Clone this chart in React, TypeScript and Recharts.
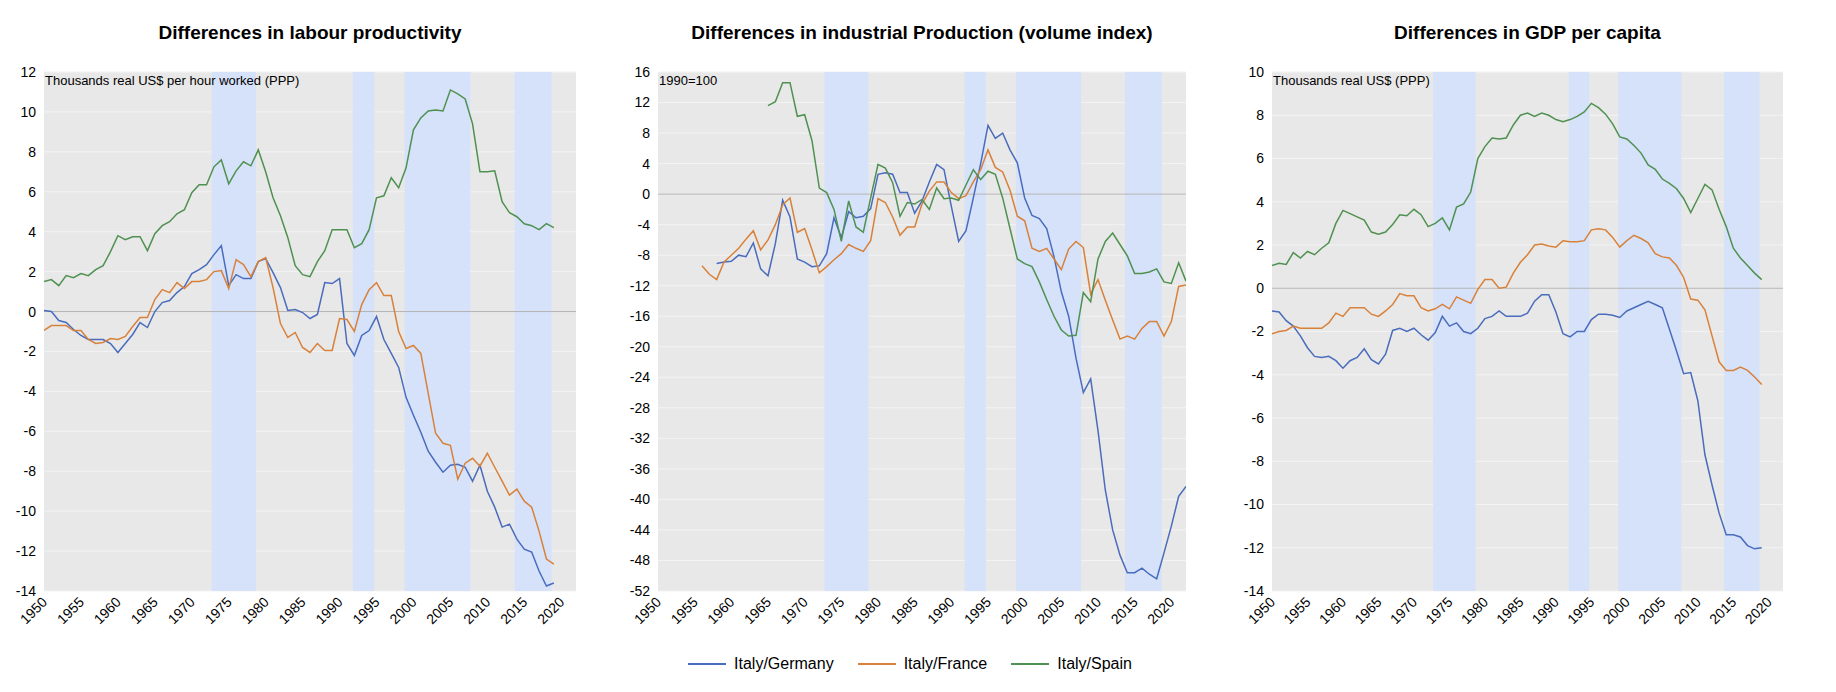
import React from 'react';
import { LineChart, Line, XAxis, YAxis, CartesianGrid, ReferenceArea, ReferenceLine } from 'recharts';

const yearTicks = [1950, 1955, 1960, 1965, 1970, 1975, 1980, 1985, 1990, 1995, 2000, 2005, 2010, 2015, 2020];
const bands = [[1972.7, 1978.7], [1991.8, 1994.7], [1998.8, 2007.7], [2013.7, 2018.7]];

// labour productivity, 1950-2019
const lpGermany = [0.05, 0.0, -0.45, -0.55, -0.9, -1.2, -1.4, -1.4, -1.4, -1.6, -2.05, -1.6, -1.15, -0.55, -0.8, 0.0, 0.45, 0.55, 0.95, 1.25,
  1.9, 2.1, 2.35, 2.85, 3.3, 1.3, 1.85, 1.65, 1.65, 2.5, 2.65, 1.95, 1.2, 0.05, 0.1, -0.05, -0.35, -0.15, 1.45, 1.4,
  1.65, -1.6, -2.2, -1.2, -0.95, -0.25, -1.4, -2.1, -2.8, -4.3, -5.2, -6.05, -7.0, -7.55, -8.05, -7.7, -7.65, -7.8, -8.5, -7.7,
  -9.0, -9.8, -10.8, -10.65, -11.4, -11.9, -12.05, -13.0, -13.75, -13.6];
const lpFrance = [-0.95, -0.7, -0.7, -0.7, -0.95, -0.95, -1.4, -1.6, -1.55, -1.35, -1.4, -1.25, -0.75, -0.3, -0.3, 0.6, 1.1, 0.95, 1.45, 1.15,
  1.5, 1.5, 1.6, 2.0, 2.05, 1.15, 2.6, 2.35, 1.75, 2.5, 2.7, 1.2, -0.6, -1.3, -1.05, -1.8, -2.05, -1.6, -1.95, -1.95,
  -0.35, -0.4, -1.0, 0.35, 1.1, 1.45, 0.8, 0.8, -1.0, -1.85, -1.7, -2.1, -4.1, -6.1, -6.6, -6.7, -8.4, -7.6, -7.35, -7.75,
  -7.1, -7.8, -8.5, -9.2, -8.9, -9.5, -9.8, -11.0, -12.4, -12.65];
const lpSpain = [1.5, 1.6, 1.3, 1.8, 1.7, 1.9, 1.8, 2.1, 2.3, 3.0, 3.8, 3.6, 3.75, 3.75, 3.05, 3.9, 4.3, 4.5, 4.9, 5.1,
  5.95, 6.35, 6.35, 7.25, 7.6, 6.4, 7.05, 7.5, 7.3, 8.1, 7.0, 5.7, 4.8, 3.7, 2.3, 1.85, 1.75, 2.5, 3.05, 4.1,
  4.1, 4.1, 3.2, 3.4, 4.1, 5.7, 5.8, 6.7, 6.2, 7.2, 9.1, 9.7, 10.05, 10.1, 10.05, 11.1, 10.9, 10.65, 9.4, 7.0,
  7.0, 7.05, 5.5, 4.95, 4.75, 4.4, 4.3, 4.1, 4.4, 4.2];

// industrial production, Germany 1958-2022, France 1956-2022, Spain 1965-2022
const ipGermany = [-9.1, -8.9, -8.8, -8.0, -8.2, -6.4, -9.8, -10.7, -6.5, -0.8, -3.0, -8.5, -8.9, -9.5, -9.4, -7.8, -3.1, -5.7, -2.3, -3.1,
  -2.9, -1.9, 2.6, 2.8, 2.6, 0.2, 0.2, -2.5, -0.9, 1.6, 3.9, 3.2, -1.6, -6.2, -4.8, -0.5, 4.0, 9.0, 7.3, 8.0,
  5.8, 4.1, -0.5, -2.8, -3.2, -4.5, -8.2, -12.8, -16.0, -21.5, -26.0, -24.2, -31.0, -38.8, -44.0, -47.3, -49.6, -49.6, -49.0, -49.8,
  -50.4, -47.0, -43.5, -39.6, -38.3];
const ipFrance = [-9.4, -10.5, -11.2, -8.9, -8.0, -7.1, -5.9, -4.8, -7.3, -6.0, -4.0, -1.4, -0.5, -5.0, -4.5, -7.3, -10.3, -9.5, -8.6, -7.8,
  -6.6, -7.1, -7.5, -6.1, -0.6, -1.1, -3.0, -5.4, -4.3, -4.3, -1.3, 0.4, 1.6, 1.6, 0.2, -0.6, -0.2, 1.6, 3.2, 5.8,
  3.5, 2.9, 0.5, -2.9, -3.5, -7.1, -7.5, -7.1, -8.5, -9.9, -7.2, -6.2, -7.0, -13.1, -11.2, -13.9, -16.5, -19.0, -18.6, -19.0,
  -17.6, -16.7, -16.7, -18.6, -16.7, -12.1, -11.9];
const ipSpain = [11.6, 12.1, 14.6, 14.6, 10.2, 10.4, 7.0, 0.8, 0.2, -2.0, -6.2, -0.9, -4.3, -5.0, -0.5, 3.9, 3.4, 1.5, -2.9, -1.1,
  -1.3, -0.7, -2.0, 0.8, -0.6, -0.5, -0.8, 1.2, 3.2, 1.9, 3.0, 2.6, -0.5, -4.5, -8.5, -9.1, -9.5, -11.5, -13.8, -16.0,
  -17.8, -18.6, -18.5, -12.9, -14.1, -8.5, -6.2, -5.1, -6.6, -8.1, -10.4, -10.4, -10.2, -9.8, -11.5, -11.7, -9.0, -11.4];

// GDP per capita, 1950-2019
const gdpGermany = [-1.05, -1.1, -1.5, -1.75, -2.2, -2.75, -3.15, -3.2, -3.15, -3.35, -3.7, -3.35, -3.2, -2.8, -3.3, -3.5, -3.05, -1.95, -1.85, -2.0,
  -1.85, -2.15, -2.4, -2.05, -1.3, -1.75, -1.6, -2.0, -2.1, -1.85, -1.4, -1.3, -1.05, -1.3, -1.3, -1.3, -1.15, -0.6, -0.3, -0.3,
  -1.1, -2.1, -2.25, -2.0, -2.0, -1.45, -1.2, -1.2, -1.25, -1.35, -1.05, -0.9, -0.75, -0.6, -0.75, -0.9, -1.9, -2.9, -3.95, -3.9,
  -5.2, -7.7, -9.1, -10.4, -11.4, -11.4, -11.5, -11.9, -12.05, -12.0];
const gdpFrance = [-2.1, -2.0, -1.95, -1.75, -1.85, -1.85, -1.85, -1.85, -1.6, -1.15, -1.3, -0.9, -0.9, -0.9, -1.2, -1.3, -1.05, -0.75, -0.25, -0.35,
  -0.35, -0.9, -1.05, -0.95, -0.75, -0.95, -0.4, -0.55, -0.7, -0.05, 0.4, 0.4, 0.0, 0.05, 0.7, 1.2, 1.55, 2.0, 2.05, 1.95,
  1.9, 2.2, 2.15, 2.15, 2.2, 2.7, 2.75, 2.7, 2.35, 1.9, 2.2, 2.45, 2.3, 2.1, 1.6, 1.45, 1.4, 1.05, 0.5, -0.5,
  -0.55, -1.0, -2.2, -3.4, -3.8, -3.8, -3.65, -3.8, -4.1, -4.45];
const gdpSpain = [1.05, 1.15, 1.1, 1.65, 1.4, 1.7, 1.55, 1.85, 2.1, 3.0, 3.6, 3.45, 3.3, 3.15, 2.6, 2.5, 2.6, 2.95, 3.4, 3.35,
  3.65, 3.4, 2.85, 3.0, 3.25, 2.7, 3.75, 3.9, 4.45, 6.0, 6.55, 6.95, 6.9, 6.95, 7.55, 8.0, 8.1, 7.95, 8.1, 8.0,
  7.8, 7.7, 7.8, 7.95, 8.15, 8.55, 8.35, 8.05, 7.6, 7.0, 6.9, 6.6, 6.25, 5.7, 5.5, 5.05, 4.85, 4.6, 4.15, 3.5,
  4.15, 4.8, 4.55, 3.65, 2.85, 1.85, 1.4, 1.05, 0.7, 0.4];

const BLUE = '#4a6cbd';
const ORANGE = '#d8813a';
const GREEN = '#4f9150';
const FONT = '"Liberation Sans", Arial, sans-serif';

const build = (g: number[], gs: number, f: number[], fs: number, s: number[], ss: number) => {
  const rows = [];
  for (let y = 1950; y <= 2022; y++) {
    rows.push({
      year: y,
      germany: g[y - gs] ?? null,
      france: f[y - fs] ?? null,
      spain: s[y - ss] ?? null,
    });
  }
  return rows;
};

const lpData = build(lpGermany, 1950, lpFrance, 1950, lpSpain, 1950);
const ipData = build(ipGermany, 1958, ipFrance, 1956, ipSpain, 1965);
const gdpData = build(gdpGermany, 1950, gdpFrance, 1950, gdpSpain, 1950);

const range = (a: number, b: number, s: number) => {
  const out: number[] = [];
  for (let v = a; v <= b; v += s) out.push(v);
  return out;
};

const XTick = ({ x, y, payload }: any) => (
  <text x={x + 4} y={y + 4} textAnchor="end" transform={`rotate(-45 ${x + 4} ${y + 4})`} fontSize={14} fill="#000" fontFamily={FONT}>
    {payload.value}
  </text>
);

type PanelProps = {
  left: number; data: any[]; yMin: number; yMax: number; step: number; yWidth: number; right: number;
  title: string; note: string;
};

const Panel = ({ left, data, yMin, yMax, step, yWidth, right, title, note }: PanelProps) => {
  const plotW = 600 - yWidth - right;
  return (
    <div style={{ position: 'absolute', left, top: 0, width: 600, height: 640 }}>
      <div style={{ position: 'absolute', left: yWidth, width: plotW, top: 22, textAlign: 'center', fontWeight: 'bold', fontSize: 19, fontFamily: FONT }}>
        {title}
      </div>
      <LineChart width={600} height={640} data={data} margin={{ top: 72, right, bottom: 0, left: 0 }}>
        <CartesianGrid vertical={false} fill="#e8e8e8" stroke="#f3f3f3" />
        {bands.map(([a, b]) => (
          <ReferenceArea key={a} x1={a} x2={b} fill="#d6e2fa" fillOpacity={1} stroke="none" ifOverflow="hidden" />
        ))}
        <ReferenceLine y={0} stroke="#b4b4b4" strokeWidth={1} />
        <XAxis dataKey="year" type="number" domain={[1950, 2022]} ticks={yearTicks} interval={0} height={49}
          axisLine={false} tickLine={false} tick={<XTick />} allowDataOverflow />
        <YAxis domain={[yMin, yMax]} ticks={range(yMin, yMax, step)} interval={0} width={yWidth}
          axisLine={false} tickLine={false} tick={{ fontSize: 14, fill: '#000', fontFamily: FONT }} />
        <Line dataKey="germany" stroke={BLUE} strokeWidth={1.5} dot={false} isAnimationActive={false} />
        <Line dataKey="france" stroke={ORANGE} strokeWidth={1.5} dot={false} isAnimationActive={false} />
        <Line dataKey="spain" stroke={GREEN} strokeWidth={1.5} dot={false} isAnimationActive={false} />
      </LineChart>
      <div style={{ position: 'absolute', left: yWidth + 1, top: 73, fontSize: 13, fontFamily: FONT }}>{note}</div>
    </div>
  );
};

const legendItems = [
  { name: 'Italy/Germany', color: BLUE },
  { name: 'Italy/France', color: ORANGE },
  { name: 'Italy/Spain', color: GREEN },
];

export default function App() {
  return (
    <div style={{ position: 'absolute', left: 0, top: 0, width: 1836, height: 692, background: '#fff' }}>
      <Panel left={0} data={lpData} yMin={-14} yMax={12} step={2} yWidth={44} right={24}
        title="Differences in labour productivity" note="Thousands real US$ per hour worked (PPP)" />
      <Panel left={610} data={ipData} yMin={-52} yMax={16} step={4} yWidth={48} right={24}
        title="Differences in industrial Production (volume index)" note="1990=100" />
      <Panel left={1226} data={gdpData} yMin={-14} yMax={10} step={2} yWidth={46} right={43}
        title="Differences in GDP per capita" note="Thousands real US$ (PPP)" />
      <div style={{ position: 'absolute', top: 655, left: 600, width: 620, display: 'flex', justifyContent: 'center', gap: 24, fontFamily: FONT, fontSize: 16 }}>
        {legendItems.map((it) => (
          <div key={it.name} style={{ display: 'flex', alignItems: 'center', gap: 8 }}>
            <div style={{ width: 38, height: 2, background: it.color }} />
            <span>{it.name}</span>
          </div>
        ))}
      </div>
    </div>
  );
}
